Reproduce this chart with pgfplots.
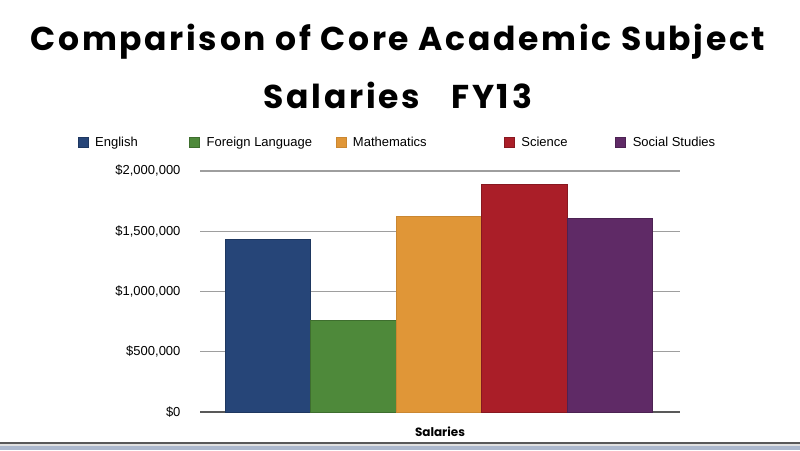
\documentclass[border=0pt]{standalone}
\usepackage{fontspec}
\setmainfont{Liberation Sans}
\newfontfamily\titlefont{Poppins}[LetterSpace=8]
\newfontfamily\labelfont{Poppins}
\usepackage{pgfplots}
\pgfplotsset{compat=1.18}
\definecolor{cEng}{RGB}{38,69,120}
\definecolor{cFor}{RGB}{78,137,58}
\definecolor{cMat}{RGB}{224,150,55}
\definecolor{cSci}{RGB}{170,30,40}
\definecolor{cSoc}{RGB}{95,42,102}
\begin{document}
\begin{tikzpicture}[x=1pt,y=1pt]
\path[use as bounding box] (0,0) rectangle (800,450);
% bottom decoration
\fill[white] (0,0) rectangle (800,450);
\fill[black!65] (0,6) rectangle (800,8.5);
\fill[black!12] (0,4) rectangle (800,6);
\fill[color={rgb,255:red,172;green,184;blue,205}] (0,0) rectangle (800,4);
% title
\node[font=\titlefont\bfseries\fontsize{33}{36}\selectfont] at (398,408) {Comparison of Core Academic Subject};
\node[font=\titlefont\bfseries\fontsize{33}{36}\selectfont] at (398,355) {Salaries\hspace{22pt} FY13};
\begin{axis}[
  at={(200pt,38pt)}, anchor=south west,
  scale only axis, width=480pt, height=241pt,
  xmin=-0.794, xmax=4.82, ymin=0, ymax=2000000,
  ybar, bar width=1, bar shift=0,
  axis x line*=bottom, axis y line*=left,
  y axis line style={draw=none},
  x axis line style={draw=black!65, line width=1.5pt},
  xtick=\empty,
  scaled y ticks=false,
  ytick={0,500000,1000000,1500000,2000000},
  yticklabels={{\$0},{\$500,000},{\$1,000,000},{\$1,500,000},{\$2,000,000}},
  yticklabel style={font=\fontsize{13}{15}\selectfont, anchor=east, xshift=-16pt},
  ymajorgrids, grid style={draw=black!38, line width=1.2pt},
  major tick length=0pt,
  xlabel={\labelfont\bfseries Salaries},
  xlabel style={font=\fontsize{12}{14}\selectfont, at={(axis description cs:0.5,0)}, anchor=base, yshift=-24pt, inner sep=0pt},
  legend columns=5,
  legend style={draw=none, fill=none, at={(-0.255,1.12)}, anchor=west, font=\fontsize{13}{15}\selectfont, inner sep=0pt,
    /tikz/every odd column/.append style={column sep=5pt}},
  legend image code/.code={\fill[#1] (0pt,-5pt) rectangle (10pt,5pt);},
]
\addplot[fill=cEng, draw=cEng!80!black] coordinates {(0,1436000)};
\addplot[fill=cFor, draw=cFor!80!black] coordinates {(1,763000)};
\addplot[fill=cMat, draw=cMat!90!black] coordinates {(2,1627000)};
\addplot[fill=cSci, draw=cSci!80!black] coordinates {(3,1892000)};
\addplot[fill=cSoc, draw=cSoc!80!black] coordinates {(4,1610000)};
\legend{\makebox[92pt][l]{English},\makebox[127pt][l]{Foreign Language},\makebox[149pt][l]{Mathematics},\makebox[92pt][l]{Science},Social Studies}
\end{axis}
\end{tikzpicture}
\end{document}
